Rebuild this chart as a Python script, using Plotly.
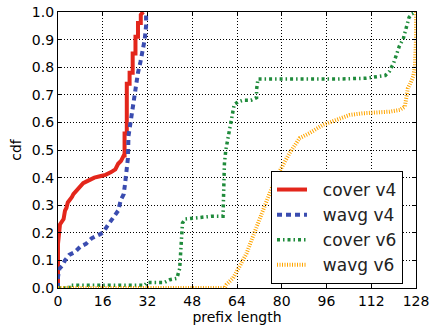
import plotly.graph_objects as go

# ---- data ----
cover_v4_x = [0, 0, 0.7, 1.5, 2, 2.5, 3, 3.5, 4.5, 5, 5.5, 6.5, 7, 8, 9, 11, 13, 15, 17, 19, 20.5, 21.5, 22.5,
              23.5, 23.8, 23.8, 24.6, 24.6, 25.6, 25.6, 26.7, 26.7, 27.7, 27.7, 28.6, 28.6, 29.6, 29.6, 30.5]
cover_v4_y = [0, 0.16, 0.23, 0.24, 0.25, 0.28, 0.29, 0.31, 0.32, 0.33, 0.34, 0.35, 0.36, 0.37, 0.38, 0.39, 0.40,
              0.405, 0.41, 0.42, 0.43, 0.45, 0.46, 0.48, 0.48, 0.56, 0.56, 0.74, 0.74, 0.78, 0.78, 0.85, 0.85,
              0.91, 0.91, 0.96, 0.96, 0.99, 1.0]

wavg_v4_x = [0, 0, 0.5, 1.5, 2.5, 4, 6, 8, 10, 12, 14, 16, 18, 20, 21.5, 22.5, 23.5, 24, 24.5, 25, 25.2,
             25.6, 26.3, 27, 27.8, 28.6, 29.5, 30.3, 31, 31.5, 31.5]
wavg_v4_y = [0, 0.04, 0.07, 0.08, 0.10, 0.12, 0.13, 0.15, 0.16, 0.18, 0.19, 0.20, 0.23, 0.26, 0.28, 0.32,
             0.34, 0.38, 0.42, 0.47, 0.55, 0.58, 0.63, 0.68, 0.74, 0.78, 0.82, 0.86, 0.90, 0.95, 1.0]

cover_v6_x = [0, 4, 4, 31, 32, 38, 40, 42.5, 43.5, 44, 44.5, 45.5, 50, 55, 59, 59.5, 60, 61, 62, 63, 64.5,
              66, 69, 71, 71, 71.5, 100, 110, 117, 118.5, 120, 121, 122, 123.5, 124.5, 125.5, 126.5, 128]
cover_v6_y = [0, 0, 0.01, 0.01, 0.02, 0.02, 0.03, 0.035, 0.07, 0.18, 0.235, 0.25, 0.255, 0.26, 0.26, 0.45,
              0.50, 0.56, 0.62, 0.665, 0.675, 0.68, 0.68, 0.69, 0.72, 0.757, 0.757, 0.76, 0.77, 0.785, 0.815,
              0.85, 0.875, 0.905, 0.945, 0.98, 0.993, 1.0]

wavg_v6_x = [0, 59.6, 60.2, 62.6, 64.9, 67.4, 69.7, 71.9, 73.3, 75.7, 78, 80, 82.8, 86.4, 89.9, 94.7, 100.7,
             104.3, 109, 113.8, 118.6, 122.2, 124, 124.6, 125.1, 126, 127, 127.6, 128, 128]
wavg_v6_y = [0, 0, 0.012, 0.036, 0.078, 0.125, 0.187, 0.247, 0.283, 0.344, 0.40, 0.44, 0.489, 0.543, 0.561,
             0.591, 0.615, 0.627, 0.633, 0.635, 0.639, 0.645, 0.657, 0.693, 0.724, 0.742, 0.766, 0.80, 0.9, 1.0]

series_names = ["cover v4", "wavg v4", "cover v6", "wavg v6"]
x_ticks = [0, 16, 32, 48, 64, 80, 96, 112, 128]
y_ticks = [0.0, 0.1, 0.2, 0.3, 0.4, 0.5, 0.6, 0.7, 0.8, 0.9, 1.0]

FONT = "DejaVu Sans"
PAD = "\u00a0\u00a0"  # gap between legend sample and label

fig = go.Figure()
fig.add_trace(go.Scatter(x=cover_v4_x, y=cover_v4_y, mode="lines", name=PAD + series_names[0],
                         line=dict(color="#e3261b", width=4)))
fig.add_trace(go.Scatter(x=wavg_v4_x, y=wavg_v4_y, mode="lines", name=PAD + series_names[1],
                         line=dict(color="#3a4cb0", width=4, dash="5px,4px")))
fig.add_trace(go.Scatter(x=cover_v6_x, y=cover_v6_y, mode="lines", name=PAD + series_names[2],
                         line=dict(color="#1f8b3b", width=3.5, dash="3px,3px,1.5px,3px")))
fig.add_trace(go.Scatter(x=wavg_v6_x, y=wavg_v6_y, mode="lines", name=PAD + series_names[3],
                         line=dict(color="#ffa500", width=4, dash="1px,1.5px")))

axis_common = dict(
    showline=True, linecolor="black", linewidth=1.2, mirror="ticks",
    ticks="inside", ticklen=4, tickcolor="black", tickwidth=1,
    showgrid=True, gridcolor="black", griddash="1px,2px", gridwidth=1,
    zeroline=False, automargin=False, ticklabeloverflow="allow",
    tickfont=dict(family=FONT, size=14, color="black"),
)

fig.update_xaxes(range=[0, 128], tickvals=x_ticks, ticktext=[str(v) for v in x_ticks],
                 title=dict(text="prefix length", font=dict(family=FONT, size=14, color="black"), standoff=2),
                 **axis_common)
fig.update_yaxes(range=[0, 1.0], tickvals=y_ticks, ticktext=[f"{v:.1f}" for v in y_ticks],
                 title=dict(text="cdf", font=dict(family=FONT, size=14, color="black"), standoff=6),
                 **axis_common)

fig.update_layout(
    width=438, height=326,
    margin=dict(l=58, r=22, t=12, b=38),
    paper_bgcolor="white", plot_bgcolor="white",
    font=dict(family=FONT, color="black"),
    legend=dict(x=0.595, y=0.424, xanchor="left", yanchor="top",
                bgcolor="white", bordercolor="black", borderwidth=1,
                font=dict(family=FONT, size=17, color="#222222"),
                tracegroupgap=0, itemwidth=30),
)

# remove the browser's default 8px page margin so the figure fills the window exactly
fig.write_html("out.html",
               config={"displayModeBar": False},
               post_script="document.body.style.margin='0';document.body.style.overflow='hidden';")
